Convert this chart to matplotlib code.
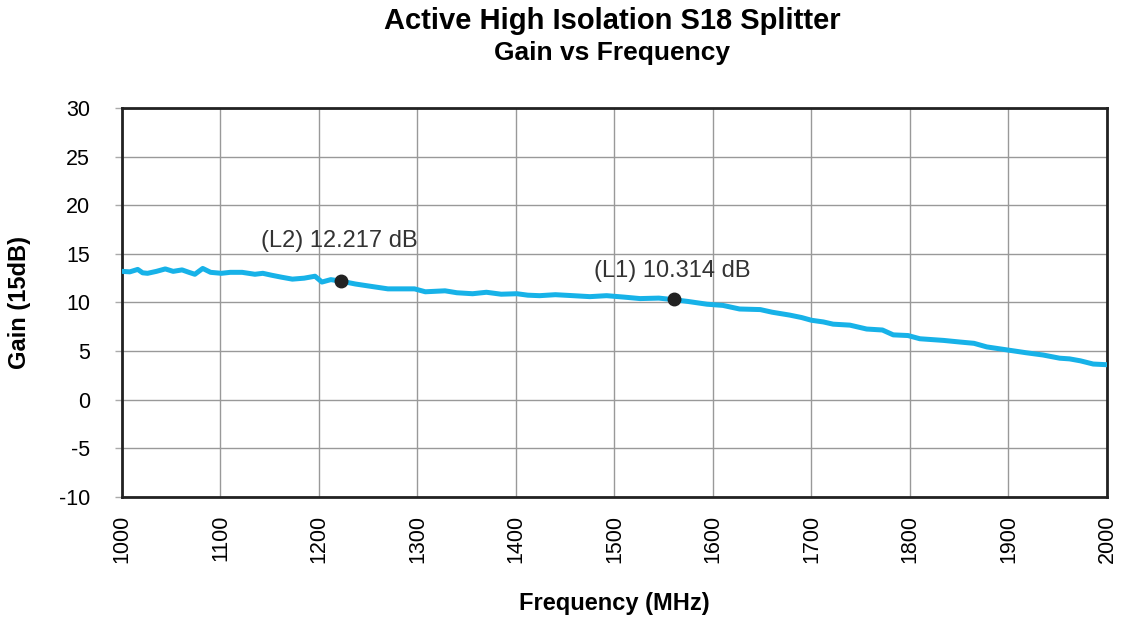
import matplotlib.pyplot as plt
import numpy as np

plt.rcParams['font.family'] = ['Liberation Sans', 'DejaVu Sans']
plt.rcParams['axes.unicode_minus'] = False

# gain curve (MHz, dB)
freq = [1000, 1008, 1016, 1021, 1026, 1035, 1044, 1052, 1061, 1068, 1074,
        1082, 1090, 1101, 1110, 1122, 1135, 1143, 1152, 1162, 1173, 1185,
        1196, 1203, 1212, 1222, 1237, 1250, 1270, 1297, 1308, 1328, 1340,
        1356, 1370, 1385, 1401, 1412, 1424, 1440, 1458, 1475, 1492, 1510,
        1526, 1545, 1559, 1575, 1594, 1610, 1627, 1648, 1660, 1678, 1690,
        1700, 1712, 1722, 1739, 1756, 1772, 1783, 1798, 1810, 1834, 1851,
        1865, 1878, 1900, 1918, 1935, 1952, 1962, 1973, 1986, 2000]
gain = [13.2, 13.15, 13.4, 13.05, 13.0, 13.2, 13.45, 13.2, 13.35, 13.1, 12.9,
        13.5, 13.1, 13.0, 13.1, 13.1, 12.9, 13.0, 12.8, 12.6, 12.4, 12.5,
        12.7, 12.1, 12.35, 12.2, 11.9, 11.7, 11.4, 11.4, 11.1, 11.2, 11.0,
        10.9, 11.05, 10.85, 10.9, 10.75, 10.7, 10.8, 10.7, 10.6, 10.7, 10.55,
        10.4, 10.45, 10.3, 10.1, 9.82, 9.7, 9.33, 9.27, 9.0, 8.7, 8.45,
        8.17, 8.0, 7.77, 7.67, 7.27, 7.17, 6.67, 6.6, 6.27, 6.1, 5.93,
        5.8, 5.43, 5.1, 4.83, 4.6, 4.27, 4.2, 4.0, 3.67, 3.6]

# markers
mark_freq = [1222, 1560]
mark_gain = [12.217, 10.314]
mark_text = ['(L2) 12.217 dB', '(L1) 10.314 dB']

fig = plt.figure(figsize=(11.25, 6.22), dpi=100)
ax = fig.add_axes([0.1084, 0.201, 0.8756, 0.6254])

ax.plot(freq, gain, color='#17b2e8', lw=3.6, solid_joinstyle='round',
        solid_capstyle='round', zorder=3)
ax.plot(mark_freq, mark_gain, 'o', color='#222222', ms=9, zorder=4)
ax.annotate(mark_text[0], (mark_freq[0], mark_gain[0]), xytext=(-80, 40),
            textcoords='offset pixels', va='center', fontsize=17, color='#333333')
ax.annotate(mark_text[1], (mark_freq[1], mark_gain[1]), xytext=(-80, 28),
            textcoords='offset pixels', va='center', fontsize=17, color='#333333')

ax.set_xlim(1000, 2000)
ax.set_ylim(-10, 30)
ax.set_xticks(np.arange(1000, 2001, 100))
ax.set_yticks(np.arange(-10, 31, 5))
ax.grid(True, color='#999999', lw=1)
ax.set_axisbelow(True)
for s in ax.spines.values():
    s.set_color('#222222')
    s.set_linewidth(2)

ax.tick_params(axis='x', length=0, pad=13, labelsize=15.5, labelrotation=90)
ax.tick_params(axis='y', length=5, width=1, color='#aaaaaa', pad=18, labelsize=15.5)

ax.set_xlabel('Frequency (MHz)', fontsize=17, fontweight='bold', va='center')
ax.set_ylabel('Gain (15dB)', fontsize=17, fontweight='bold', va='center')
ax.xaxis.set_label_coords(0.5, -0.275)
ax.yaxis.set_label_coords(-0.1036, 0.5)

fig.text(0.544, 0.967, 'Active High Isolation S18 Splitter', ha='center', va='center',
         fontsize=21, fontweight='bold')
fig.text(0.544, 0.915, 'Gain vs Frequency', ha='center', va='center',
         fontsize=19, fontweight='bold')

fig.savefig('out.png', dpi=100)
